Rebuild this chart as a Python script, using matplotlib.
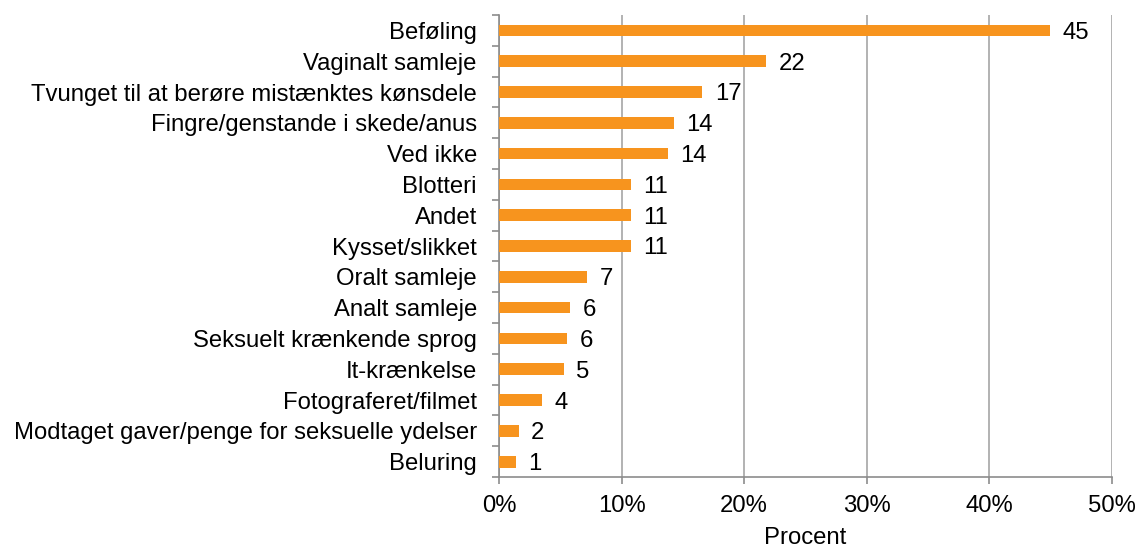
import matplotlib.pyplot as plt
from matplotlib.ticker import FixedLocator, PercentFormatter

categories = ['Beføling', 'Vaginalt samleje', 'Tvunget til at berøre mistænktes kønsdele',
              'Fingre/genstande i skede/anus', 'Ved ikke', 'Blotteri', 'Andet', 'Kysset/slikket',
              'Oralt samleje', 'Analt samleje', 'Seksuelt krænkende sprog', 'It-krænkelse',
              'Fotograferet/filmet', 'Modtaget gaver/penge for seksuelle ydelser', 'Beluring']
values = [44.95, 21.8, 16.6, 14.3, 13.8, 10.75, 10.75, 10.75, 7.2, 5.8, 5.55, 5.3, 3.5, 1.6, 1.35]
labels = ['45', '22', '17', '14', '14', '11', '11', '11', '7', '6', '6', '5', '4', '2', '1']

plt.rcParams['font.family'] = ['Liberation Sans', 'DejaVu Sans']
plt.rcParams['font.size'] = 17.2

fig = plt.figure(figsize=(11.38, 5.49), dpi=100)
ax = fig.add_axes([0.4385, 0.131, 0.977 - 0.4385, 0.9727 - 0.131])

y = range(len(categories))
ax.barh(y, values, height=0.38, color='#F7941E', zorder=3)
for yi, v, lab in zip(y, values, labels):
    ax.text(v + 1.0, yi + 0.08, lab, va='center', ha='left', color='black')

ax.set_xlim(0, 50)
ax.set_ylim(len(categories) - 0.5, -0.5)
ax.set_xticks(range(0, 51, 10))
ax.xaxis.set_major_formatter(PercentFormatter(decimals=0))
ax.set_yticks(list(y))
ax.set_yticklabels(categories)
ax.yaxis.set_minor_locator(FixedLocator([i - 0.5 for i in range(len(categories) + 1)]))
ax.tick_params(axis='y', which='major', length=0, pad=16)
ax.tick_params(axis='y', which='minor', length=5, color='#8C8C8C', width=1.2)
ax.tick_params(axis='x', length=5, color='#8C8C8C', width=1.2, pad=8)

ax.grid(axis='x', color='#A6A6A6', linewidth=1.2, zorder=0)
for s in ['top', 'right']:
    ax.spines[s].set_visible(False)
for s in ['left', 'bottom']:
    ax.spines[s].set_color('#8C8C8C')
    ax.spines[s].set_linewidth(1.2)

ax.set_xlabel('Procent', labelpad=7)

fig.savefig('out.png', dpi=100)
